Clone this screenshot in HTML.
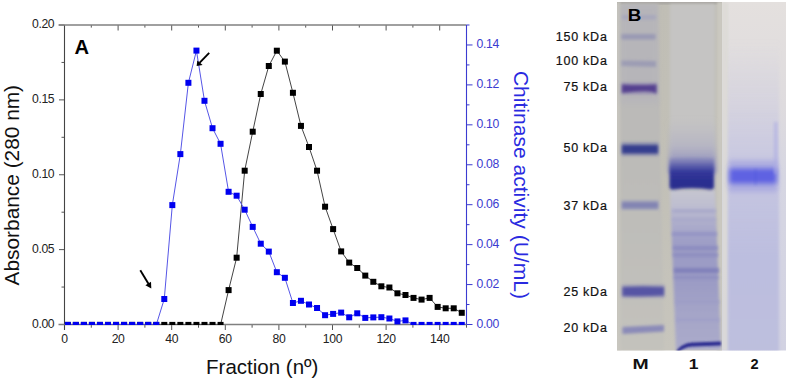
<!DOCTYPE html>
<html><head><meta charset="utf-8"><style>
html,body{margin:0;padding:0;background:#fff;}
body{width:787px;height:379px;overflow:hidden;font-family:"Liberation Sans",sans-serif;}
svg{display:block;}
</style></head><body>
<svg width="787" height="379" viewBox="0 0 787 379">
<defs>
<clipPath id="pa"><rect x="64.5" y="25.0" width="402.0" height="300.0"/></clipPath>
<filter id="bl1" x="-20%" y="-100%" width="140%" height="300%"><feGaussianBlur stdDeviation="1.2"/></filter>
<filter id="bl2" x="-20%" y="-100%" width="140%" height="300%"><feGaussianBlur stdDeviation="2"/></filter>
<filter id="bl3" x="-20%" y="-100%" width="140%" height="300%"><feGaussianBlur stdDeviation="3.5"/></filter>
</defs>
<rect width="787" height="379" fill="#fff"/>
<g><line x1="64.50" y1="324.5" x2="64.50" y2="330.0" stroke="#555" stroke-width="1"/><line x1="64.50" y1="25.0" x2="64.50" y2="30.5" stroke="#555" stroke-width="1"/><line x1="91.30" y1="324.5" x2="91.30" y2="327.7" stroke="#555" stroke-width="1"/><line x1="91.30" y1="25.0" x2="91.30" y2="27.6" stroke="#555" stroke-width="1"/><line x1="118.10" y1="324.5" x2="118.10" y2="330.0" stroke="#555" stroke-width="1"/><line x1="118.10" y1="25.0" x2="118.10" y2="30.5" stroke="#555" stroke-width="1"/><line x1="144.90" y1="324.5" x2="144.90" y2="327.7" stroke="#555" stroke-width="1"/><line x1="144.90" y1="25.0" x2="144.90" y2="27.6" stroke="#555" stroke-width="1"/><line x1="171.70" y1="324.5" x2="171.70" y2="330.0" stroke="#555" stroke-width="1"/><line x1="171.70" y1="25.0" x2="171.70" y2="30.5" stroke="#555" stroke-width="1"/><line x1="198.50" y1="324.5" x2="198.50" y2="327.7" stroke="#555" stroke-width="1"/><line x1="198.50" y1="25.0" x2="198.50" y2="27.6" stroke="#555" stroke-width="1"/><line x1="225.30" y1="324.5" x2="225.30" y2="330.0" stroke="#555" stroke-width="1"/><line x1="225.30" y1="25.0" x2="225.30" y2="30.5" stroke="#555" stroke-width="1"/><line x1="252.10" y1="324.5" x2="252.10" y2="327.7" stroke="#555" stroke-width="1"/><line x1="252.10" y1="25.0" x2="252.10" y2="27.6" stroke="#555" stroke-width="1"/><line x1="278.90" y1="324.5" x2="278.90" y2="330.0" stroke="#555" stroke-width="1"/><line x1="278.90" y1="25.0" x2="278.90" y2="30.5" stroke="#555" stroke-width="1"/><line x1="305.70" y1="324.5" x2="305.70" y2="327.7" stroke="#555" stroke-width="1"/><line x1="305.70" y1="25.0" x2="305.70" y2="27.6" stroke="#555" stroke-width="1"/><line x1="332.50" y1="324.5" x2="332.50" y2="330.0" stroke="#555" stroke-width="1"/><line x1="332.50" y1="25.0" x2="332.50" y2="30.5" stroke="#555" stroke-width="1"/><line x1="359.30" y1="324.5" x2="359.30" y2="327.7" stroke="#555" stroke-width="1"/><line x1="359.30" y1="25.0" x2="359.30" y2="27.6" stroke="#555" stroke-width="1"/><line x1="386.10" y1="324.5" x2="386.10" y2="330.0" stroke="#555" stroke-width="1"/><line x1="386.10" y1="25.0" x2="386.10" y2="30.5" stroke="#555" stroke-width="1"/><line x1="412.90" y1="324.5" x2="412.90" y2="327.7" stroke="#555" stroke-width="1"/><line x1="412.90" y1="25.0" x2="412.90" y2="27.6" stroke="#555" stroke-width="1"/><line x1="439.70" y1="324.5" x2="439.70" y2="330.0" stroke="#555" stroke-width="1"/><line x1="439.70" y1="25.0" x2="439.70" y2="30.5" stroke="#555" stroke-width="1"/><line x1="466.50" y1="324.5" x2="466.50" y2="327.7" stroke="#555" stroke-width="1"/><line x1="466.50" y1="25.0" x2="466.50" y2="27.6" stroke="#555" stroke-width="1"/><line x1="59.0" y1="324.50" x2="64.5" y2="324.50" stroke="#555" stroke-width="1"/><line x1="61.5" y1="287.06" x2="64.5" y2="287.06" stroke="#555" stroke-width="1"/><line x1="59.0" y1="249.62" x2="64.5" y2="249.62" stroke="#555" stroke-width="1"/><line x1="61.5" y1="212.19" x2="64.5" y2="212.19" stroke="#555" stroke-width="1"/><line x1="59.0" y1="174.75" x2="64.5" y2="174.75" stroke="#555" stroke-width="1"/><line x1="61.5" y1="137.31" x2="64.5" y2="137.31" stroke="#555" stroke-width="1"/><line x1="59.0" y1="99.88" x2="64.5" y2="99.88" stroke="#555" stroke-width="1"/><line x1="61.5" y1="62.44" x2="64.5" y2="62.44" stroke="#555" stroke-width="1"/><line x1="59.0" y1="25.00" x2="64.5" y2="25.00" stroke="#555" stroke-width="1"/></g>
<line x1="64.5" y1="25.0" x2="64.5" y2="330.0" stroke="#444" stroke-width="1.1"/>
<line x1="58.5" y1="25.0" x2="466.5" y2="25.0" stroke="#808080" stroke-width="1.4"/>
<line x1="58.5" y1="324.5" x2="466.5" y2="324.5" stroke="#808080" stroke-width="1.4"/>
<g><line x1="466.5" y1="324.50" x2="472.5" y2="324.50" stroke="#3b3bd0" stroke-width="1"/><line x1="466.5" y1="304.53" x2="469.5" y2="304.53" stroke="#3b3bd0" stroke-width="1"/><line x1="466.5" y1="284.57" x2="472.5" y2="284.57" stroke="#3b3bd0" stroke-width="1"/><line x1="466.5" y1="264.60" x2="469.5" y2="264.60" stroke="#3b3bd0" stroke-width="1"/><line x1="466.5" y1="244.63" x2="472.5" y2="244.63" stroke="#3b3bd0" stroke-width="1"/><line x1="466.5" y1="224.67" x2="469.5" y2="224.67" stroke="#3b3bd0" stroke-width="1"/><line x1="466.5" y1="204.70" x2="472.5" y2="204.70" stroke="#3b3bd0" stroke-width="1"/><line x1="466.5" y1="184.73" x2="469.5" y2="184.73" stroke="#3b3bd0" stroke-width="1"/><line x1="466.5" y1="164.77" x2="472.5" y2="164.77" stroke="#3b3bd0" stroke-width="1"/><line x1="466.5" y1="144.80" x2="469.5" y2="144.80" stroke="#3b3bd0" stroke-width="1"/><line x1="466.5" y1="124.83" x2="472.5" y2="124.83" stroke="#3b3bd0" stroke-width="1"/><line x1="466.5" y1="104.87" x2="469.5" y2="104.87" stroke="#3b3bd0" stroke-width="1"/><line x1="466.5" y1="84.90" x2="472.5" y2="84.90" stroke="#3b3bd0" stroke-width="1"/><line x1="466.5" y1="64.93" x2="469.5" y2="64.93" stroke="#3b3bd0" stroke-width="1"/><line x1="466.5" y1="44.97" x2="472.5" y2="44.97" stroke="#3b3bd0" stroke-width="1"/><line x1="466.5" y1="25.00" x2="469.5" y2="25.00" stroke="#3b3bd0" stroke-width="1"/></g>
<line x1="466.5" y1="25.0" x2="466.5" y2="324.5" stroke="#3b3bd0" stroke-width="1.1"/>
<g clip-path="url(#pa)">
<polyline points="67.80,324.90 75.84,324.90 83.88,324.90 91.92,324.90 99.96,324.90 108.00,324.90 116.04,324.90 124.08,324.90 132.12,324.90 140.16,324.90 148.20,324.90 156.24,324.90 164.28,324.90 172.32,324.90 180.36,324.90 188.40,324.90 196.44,324.90 204.48,324.90 212.52,324.90 220.56,324.90 228.60,290.10 236.64,257.70 244.68,170.70 252.72,131.70 260.76,94.00 268.80,66.00 276.84,50.70 284.88,61.60 292.92,92.80 300.96,125.90 309.00,147.00 317.04,170.70 325.08,206.70 333.12,229.10 341.16,251.40 349.20,262.60 357.24,268.00 365.28,275.60 373.32,281.80 381.36,286.30 389.40,287.50 397.44,293.30 405.48,295.00 413.52,297.90 421.56,299.60 429.60,297.90 437.64,306.90 445.68,308.30 453.72,308.30 461.76,312.80" fill="none" stroke="#3a3a3a" stroke-width="0.95" stroke-linejoin="round"/>
<g fill="#000"><rect x="64.80" y="321.90" width="6.0" height="6.0"/><rect x="72.84" y="321.90" width="6.0" height="6.0"/><rect x="80.88" y="321.90" width="6.0" height="6.0"/><rect x="88.92" y="321.90" width="6.0" height="6.0"/><rect x="96.96" y="321.90" width="6.0" height="6.0"/><rect x="105.00" y="321.90" width="6.0" height="6.0"/><rect x="113.04" y="321.90" width="6.0" height="6.0"/><rect x="121.08" y="321.90" width="6.0" height="6.0"/><rect x="129.12" y="321.90" width="6.0" height="6.0"/><rect x="137.16" y="321.90" width="6.0" height="6.0"/><rect x="145.20" y="321.90" width="6.0" height="6.0"/><rect x="153.24" y="321.90" width="6.0" height="6.0"/><rect x="161.28" y="321.90" width="6.0" height="6.0"/><rect x="169.32" y="321.90" width="6.0" height="6.0"/><rect x="177.36" y="321.90" width="6.0" height="6.0"/><rect x="185.40" y="321.90" width="6.0" height="6.0"/><rect x="193.44" y="321.90" width="6.0" height="6.0"/><rect x="201.48" y="321.90" width="6.0" height="6.0"/><rect x="209.52" y="321.90" width="6.0" height="6.0"/><rect x="217.56" y="321.90" width="6.0" height="6.0"/><rect x="225.60" y="287.10" width="6.0" height="6.0"/><rect x="233.64" y="254.70" width="6.0" height="6.0"/><rect x="241.68" y="167.70" width="6.0" height="6.0"/><rect x="249.72" y="128.70" width="6.0" height="6.0"/><rect x="257.76" y="91.00" width="6.0" height="6.0"/><rect x="265.80" y="63.00" width="6.0" height="6.0"/><rect x="273.84" y="47.70" width="6.0" height="6.0"/><rect x="281.88" y="58.60" width="6.0" height="6.0"/><rect x="289.92" y="89.80" width="6.0" height="6.0"/><rect x="297.96" y="122.90" width="6.0" height="6.0"/><rect x="306.00" y="144.00" width="6.0" height="6.0"/><rect x="314.04" y="167.70" width="6.0" height="6.0"/><rect x="322.08" y="203.70" width="6.0" height="6.0"/><rect x="330.12" y="226.10" width="6.0" height="6.0"/><rect x="338.16" y="248.40" width="6.0" height="6.0"/><rect x="346.20" y="259.60" width="6.0" height="6.0"/><rect x="354.24" y="265.00" width="6.0" height="6.0"/><rect x="362.28" y="272.60" width="6.0" height="6.0"/><rect x="370.32" y="278.80" width="6.0" height="6.0"/><rect x="378.36" y="283.30" width="6.0" height="6.0"/><rect x="386.40" y="284.50" width="6.0" height="6.0"/><rect x="394.44" y="290.30" width="6.0" height="6.0"/><rect x="402.48" y="292.00" width="6.0" height="6.0"/><rect x="410.52" y="294.90" width="6.0" height="6.0"/><rect x="418.56" y="296.60" width="6.0" height="6.0"/><rect x="426.60" y="294.90" width="6.0" height="6.0"/><rect x="434.64" y="303.90" width="6.0" height="6.0"/><rect x="442.68" y="305.30" width="6.0" height="6.0"/><rect x="450.72" y="305.30" width="6.0" height="6.0"/><rect x="458.76" y="309.80" width="6.0" height="6.0"/></g>
<polyline points="67.80,324.90 75.84,324.90 83.88,324.90 91.92,324.90 99.96,324.90 108.00,324.90 116.04,324.90 124.08,324.90 132.12,324.90 140.16,324.90 148.20,324.90 156.24,324.90 164.28,299.00 172.32,205.10 180.36,154.10 188.40,82.80 196.44,50.60 204.48,100.80 212.52,128.20 220.56,143.80 228.60,191.80 236.64,195.70 244.68,209.70 252.72,226.90 260.76,243.70 268.80,251.60 276.84,272.20 284.88,277.80 292.92,303.00 300.96,300.80 309.00,304.50 317.04,308.00 325.08,315.20 333.12,313.90 341.16,312.60 349.20,317.30 357.24,313.30 365.28,317.90 373.32,317.40 381.36,317.20 389.40,318.50 397.44,321.40 405.48,320.40 413.52,324.90 421.56,324.90 429.60,324.90 437.64,324.90 445.68,324.90 453.72,324.90 461.76,324.90" fill="none" stroke="#5656e6" stroke-width="1.0" stroke-linejoin="round"/>
<g fill="#0000f0"><rect x="64.80" y="321.90" width="6.0" height="6.0"/><rect x="72.84" y="321.90" width="6.0" height="6.0"/><rect x="80.88" y="321.90" width="6.0" height="6.0"/><rect x="88.92" y="321.90" width="6.0" height="6.0"/><rect x="96.96" y="321.90" width="6.0" height="6.0"/><rect x="105.00" y="321.90" width="6.0" height="6.0"/><rect x="113.04" y="321.90" width="6.0" height="6.0"/><rect x="121.08" y="321.90" width="6.0" height="6.0"/><rect x="129.12" y="321.90" width="6.0" height="6.0"/><rect x="137.16" y="321.90" width="6.0" height="6.0"/><rect x="145.20" y="321.90" width="6.0" height="6.0"/><rect x="153.24" y="321.90" width="6.0" height="6.0"/><rect x="161.28" y="296.00" width="6.0" height="6.0"/><rect x="169.32" y="202.10" width="6.0" height="6.0"/><rect x="177.36" y="151.10" width="6.0" height="6.0"/><rect x="185.40" y="79.80" width="6.0" height="6.0"/><rect x="193.44" y="47.60" width="6.0" height="6.0"/><rect x="201.48" y="97.80" width="6.0" height="6.0"/><rect x="209.52" y="125.20" width="6.0" height="6.0"/><rect x="217.56" y="140.80" width="6.0" height="6.0"/><rect x="225.60" y="188.80" width="6.0" height="6.0"/><rect x="233.64" y="192.70" width="6.0" height="6.0"/><rect x="241.68" y="206.70" width="6.0" height="6.0"/><rect x="249.72" y="223.90" width="6.0" height="6.0"/><rect x="257.76" y="240.70" width="6.0" height="6.0"/><rect x="265.80" y="248.60" width="6.0" height="6.0"/><rect x="273.84" y="269.20" width="6.0" height="6.0"/><rect x="281.88" y="274.80" width="6.0" height="6.0"/><rect x="289.92" y="300.00" width="6.0" height="6.0"/><rect x="297.96" y="297.80" width="6.0" height="6.0"/><rect x="306.00" y="301.50" width="6.0" height="6.0"/><rect x="314.04" y="305.00" width="6.0" height="6.0"/><rect x="322.08" y="312.20" width="6.0" height="6.0"/><rect x="330.12" y="310.90" width="6.0" height="6.0"/><rect x="338.16" y="309.60" width="6.0" height="6.0"/><rect x="346.20" y="314.30" width="6.0" height="6.0"/><rect x="354.24" y="310.30" width="6.0" height="6.0"/><rect x="362.28" y="314.90" width="6.0" height="6.0"/><rect x="370.32" y="314.40" width="6.0" height="6.0"/><rect x="378.36" y="314.20" width="6.0" height="6.0"/><rect x="386.40" y="315.50" width="6.0" height="6.0"/><rect x="394.44" y="318.40" width="6.0" height="6.0"/><rect x="402.48" y="317.40" width="6.0" height="6.0"/><rect x="410.52" y="321.90" width="6.0" height="6.0"/><rect x="418.56" y="321.90" width="6.0" height="6.0"/><rect x="426.60" y="321.90" width="6.0" height="6.0"/><rect x="434.64" y="321.90" width="6.0" height="6.0"/><rect x="442.68" y="321.90" width="6.0" height="6.0"/><rect x="450.72" y="321.90" width="6.0" height="6.0"/><rect x="458.76" y="321.90" width="6.0" height="6.0"/></g>
</g>
<g font-family="Liberation Sans, sans-serif" font-size="12.2" letter-spacing="-0.35" fill="#222"><text x="64.50" y="343.2" text-anchor="middle">0</text><text x="118.10" y="343.2" text-anchor="middle">20</text><text x="171.70" y="343.2" text-anchor="middle">40</text><text x="225.30" y="343.2" text-anchor="middle">60</text><text x="278.90" y="343.2" text-anchor="middle">80</text><text x="332.50" y="343.2" text-anchor="middle">100</text><text x="386.10" y="343.2" text-anchor="middle">120</text><text x="439.70" y="343.2" text-anchor="middle">140</text><text x="54.3" y="327.80" text-anchor="end">0.00</text><text x="54.3" y="252.93" text-anchor="end">0.05</text><text x="54.3" y="178.05" text-anchor="end">0.10</text><text x="54.3" y="103.17" text-anchor="end">0.15</text><text x="54.3" y="28.30" text-anchor="end">0.20</text></g>
<g font-family="Liberation Sans, sans-serif" font-size="12.2" letter-spacing="-0.35" fill="#3b3bd0"><text x="476.5" y="327.80">0.00</text><text x="476.5" y="287.87">0.02</text><text x="476.5" y="247.93">0.04</text><text x="476.5" y="208.00">0.06</text><text x="476.5" y="168.07">0.08</text><text x="476.5" y="128.13">0.10</text><text x="476.5" y="88.20">0.12</text><text x="476.5" y="48.27">0.14</text></g>
<g fill="#000" stroke="none">
<line x1="209.2" y1="52.9" x2="199.5" y2="62.9" stroke="#000" stroke-width="1.9"/>
<path d="M196.6,66.1 L197.3,60.6 L202.6,64.9 Z"/>
<line x1="140.3" y1="270.3" x2="149.2" y2="284.9" stroke="#000" stroke-width="1.9"/>
<path d="M151.3,288.6 L145.4,285.2 L151.0,281.8 Z"/>
</g>
<text transform="translate(74.5,53.9) scale(1.04,1)" font-family="Liberation Sans, sans-serif" font-size="19.4" font-weight="bold" fill="#000">A</text>
<text transform="translate(19,285.4) rotate(-90)" font-family="Liberation Sans, sans-serif" font-size="20.85" fill="#111">Absorbance (280 nm)</text>
<text transform="translate(513.7,70.9) rotate(90)" font-family="Liberation Sans, sans-serif" font-size="21.05" fill="#2a2ae0">Chitinase activity (U/mL)</text>
<text x="206.1" y="373.8" font-family="Liberation Sans, sans-serif" font-size="20.5" fill="#111">Fraction (n&#186;)</text>
<defs>
<linearGradient id="gbase" x1="0" y1="0" x2="0" y2="1">
<stop offset="0" stop-color="#c0beb5"/>
<stop offset="0.5" stop-color="#c2c0b7"/>
<stop offset="1" stop-color="#c7c5bd"/>
</linearGradient>
<linearGradient id="mlane" x1="0" y1="0" x2="0" y2="1">
<stop offset="0" stop-color="#b8b7b8"/>
<stop offset="0.5" stop-color="#bcbbb8"/>
<stop offset="1" stop-color="#c3c2bc"/>
</linearGradient>
<linearGradient id="l2bg" x1="0" y1="0" x2="0" y2="1">
<stop offset="0" stop-color="#e4e0de"/>
<stop offset="0.3" stop-color="#dedbde"/>
<stop offset="0.5" stop-color="#d6d6e2"/>
<stop offset="1" stop-color="#d2d2e2"/>
</linearGradient>
<linearGradient id="l1haze" x1="0" y1="0" x2="0" y2="1">
<stop offset="0" stop-color="#a8a8c4" stop-opacity="0"/>
<stop offset="0.5" stop-color="#9c9cc4" stop-opacity="0.35"/>
<stop offset="1" stop-color="#6c6cb6" stop-opacity="0.9"/>
</linearGradient>
<linearGradient id="l1band" x1="0" y1="0" x2="0" y2="1">
<stop offset="0" stop-color="#7476b8" stop-opacity="0.2"/>
<stop offset="0.25" stop-color="#5558a8" stop-opacity="0.8"/>
<stop offset="0.45" stop-color="#33379a"/>
<stop offset="0.75" stop-color="#2a2e90"/>
<stop offset="1" stop-color="#282c8e"/>
</linearGradient>
<linearGradient id="l1smear" x1="0" y1="0" x2="0" y2="1">
<stop offset="0" stop-color="#c6c6d0"/>
<stop offset="0.1" stop-color="#bebed0"/>
<stop offset="0.2" stop-color="#aeaecc"/>
<stop offset="0.32" stop-color="#9e9ec6"/>
<stop offset="0.55" stop-color="#9a9ac4"/>
<stop offset="0.8" stop-color="#a6a6c8"/>
<stop offset="1" stop-color="#aaaaca"/>
</linearGradient>
<linearGradient id="l2lane" x1="0" y1="0" x2="0" y2="1">
<stop offset="0" stop-color="#c4c4e0" stop-opacity="0"/>
<stop offset="0.4" stop-color="#babae0" stop-opacity="0.55"/>
<stop offset="0.7" stop-color="#b6b8de" stop-opacity="0.8"/>
<stop offset="1" stop-color="#b8badc" stop-opacity="0.8"/>
</linearGradient>
<filter id="gb1" x="-30%" y="-200%" width="160%" height="500%"><feGaussianBlur stdDeviation="1.1"/></filter>
<filter id="gb15" x="-30%" y="-200%" width="160%" height="500%"><feGaussianBlur stdDeviation="1.5"/></filter>
<filter id="gb2" x="-30%" y="-200%" width="160%" height="500%"><feGaussianBlur stdDeviation="1.8"/></filter>
<filter id="gb3" x="-30%" y="-100%" width="160%" height="300%"><feGaussianBlur stdDeviation="2.5"/></filter>
<filter id="gb4" x="-30%" y="-30%" width="160%" height="160%"><feGaussianBlur stdDeviation="1.5"/></filter>
<clipPath id="gelc"><rect x="617" y="2" width="105" height="348.5"/></clipPath>
<clipPath id="gel2c"><rect x="722" y="2" width="64" height="348.5"/></clipPath>
</defs>
<g id="gel">
<rect x="617" y="2" width="105" height="348.5" fill="url(#gbase)"/>
<g clip-path="url(#gelc)">
<rect x="617" y="1" width="105" height="3" fill="#a09e9a" filter="url(#gb4)"/>
<rect x="617" y="2" width="3.5" height="349" fill="#c8c6bf" filter="url(#gb1)"/>
<rect x="717" y="2" width="6" height="349" fill="#cac8c0" filter="url(#gb1)"/>
<path d="M620.5 4 L658 4 L664 350 L621 350 Z" fill="url(#mlane)" filter="url(#gb4)"/>
<rect x="620.5" y="4" width="38" height="100" fill="#b2b1bc" opacity="0.4" filter="url(#gb3)"/>
<rect x="670" y="4" width="45" height="186" fill="#c5c4c3" filter="url(#gb4)"/>
<rect x="669" y="118" width="47" height="55" fill="url(#l1haze)" filter="url(#gb3)"/>
<path d="M670 190 L715 190 L721 350 L676 350 Z" fill="url(#l1smear)" filter="url(#gb4)"/>
<!-- marker bands -->
<rect x="622" y="15" width="34" height="4.5" fill="#a8a8bc" filter="url(#gb15)"/>
<rect x="621.5" y="34" width="34" height="5.5" fill="#9a9ab4" filter="url(#gb15)"/>
<path d="M621.5 60.5 L656 61 L656 67 L621.5 66 Z" fill="#9c9cb4" filter="url(#gb15)"/>
<rect x="621.5" y="82.5" width="35.5" height="12" fill="#7a6cac" opacity="0.4" filter="url(#gb2)"/>
<path d="M622 84.5 Q639 85.5 656.5 84.5 L656.5 93.5 Q651 90.5 639 91.5 Q628 92 622 93 Z" fill="#54408f" filter="url(#gb15)"/>
<rect x="621.5" y="142" width="37" height="14" fill="#6a6ea8" opacity="0.45" filter="url(#gb2)"/>
<rect x="622" y="145" width="36" height="8.5" fill="#363c8e" filter="url(#gb15)"/>
<rect x="621.5" y="200" width="37" height="10" fill="#9a9cbc" opacity="0.5" filter="url(#gb2)"/>
<rect x="622" y="202" width="36" height="6.5" fill="#8284b2" filter="url(#gb15)"/>
<rect x="622" y="284.5" width="42.5" height="13.5" fill="#7a78b4" opacity="0.4" filter="url(#gb2)"/>
<path d="M622.5 287 Q643 286 664 287 L664 295.5 Q643 296.5 622.5 296 Z" fill="#5654a4" filter="url(#gb15)"/>
<path d="M622.5 327 L664 325 L664 331.5 L622.5 334 Z" fill="#8a8ab8" filter="url(#gb15)"/>
<!-- lane1 main band -->
<path d="M669.5 158 Q692 156 714 158 L714 187.5 Q713.5 190 710 189.5 Q692 187 674 189.5 Q670 190 669.5 187 Z" fill="url(#l1band)" filter="url(#gb15)"/>
<!-- lane1 smear bands -->
<rect x="672" y="209" width="44" height="4" fill="#a0a0c8" opacity="0.6" filter="url(#gb15)"/>
<rect x="672" y="218" width="44" height="3" fill="#a0a0c8" opacity="0.5" filter="url(#gb15)"/>
<rect x="672" y="232" width="45" height="4" fill="#8e8ec2" opacity="0.7" filter="url(#gb15)"/>
<rect x="673" y="246" width="45" height="4" fill="#8686be" opacity="0.75" filter="url(#gb15)"/>
<rect x="673" y="253" width="45" height="4" fill="#8888be" opacity="0.7" filter="url(#gb15)"/>
<rect x="674" y="268" width="45" height="5" fill="#7c7cb8" opacity="0.8" filter="url(#gb15)"/>
<rect x="674" y="276" width="45" height="3" fill="#8888be" opacity="0.6" filter="url(#gb15)"/>
<rect x="675" y="300" width="45" height="4" fill="#9c9cc6" opacity="0.5" filter="url(#gb15)"/>
<rect x="676" y="318" width="44" height="4" fill="#9c9cc8" opacity="0.5" filter="url(#gb15)"/>
<path d="M676 351 Q682 343 692 342.5 L721 341.5 L721 345.5 L693 346.5 Q683 347 678 353 Z" fill="#2e2e92" filter="url(#gb1)"/>
</g>
<rect x="722" y="2" width="64" height="348.5" fill="url(#l2bg)"/>
<g clip-path="url(#gel2c)">
<rect x="722" y="2" width="6" height="348.5" fill="#dcdad6" opacity="0.8" filter="url(#gb1)"/>
<rect x="728" y="40" width="51" height="312" fill="url(#l2lane)" filter="url(#gb4)"/>
<rect x="729" y="160" width="48" height="32" fill="#9090e0" opacity="0.45" filter="url(#gb3)"/>
<rect x="729.5" y="168.5" width="47" height="15" fill="#5e62e2" filter="url(#gb3)"/>
<rect x="754" y="169" width="3" height="16" fill="#4c54d8" opacity="0.22" filter="url(#gb15)"/>
<rect x="774" y="122" width="3.5" height="52" fill="#a8a8e4" opacity="0.55" filter="url(#gb15)"/>
</g>
</g>
<g font-family="Liberation Sans, sans-serif" font-size="12.5" letter-spacing="0.75" fill="#111" stroke="#111" stroke-width="0.2" text-anchor="end">
<text x="607.6" y="40.7">150 kDa</text>
<text x="607.6" y="64.7">100 kDa</text>
<text x="607.6" y="90.7">75 kDa</text>
<text x="607.6" y="152.1">50 kDa</text>
<text x="607.6" y="209.5">37 kDa</text>
<text x="607.6" y="295.8">25 kDa</text>
<text x="607.6" y="332.3">20 kDa</text>
</g>
<g font-family="Liberation Sans, sans-serif" font-size="14.6" font-weight="bold" fill="#111" text-anchor="middle">
<text transform="translate(640.5,369) scale(1.33,1)">M</text>
<text transform="translate(693.5,369) scale(1.2,1)">1</text>
<text transform="translate(754.6,369) scale(1.0,1)">2</text>
</g>
<text transform="translate(627.8,20.8) scale(1.08,1)" font-family="Liberation Sans, sans-serif" font-size="17.4" font-weight="bold" fill="#000">B</text>

</svg>
</body></html>
